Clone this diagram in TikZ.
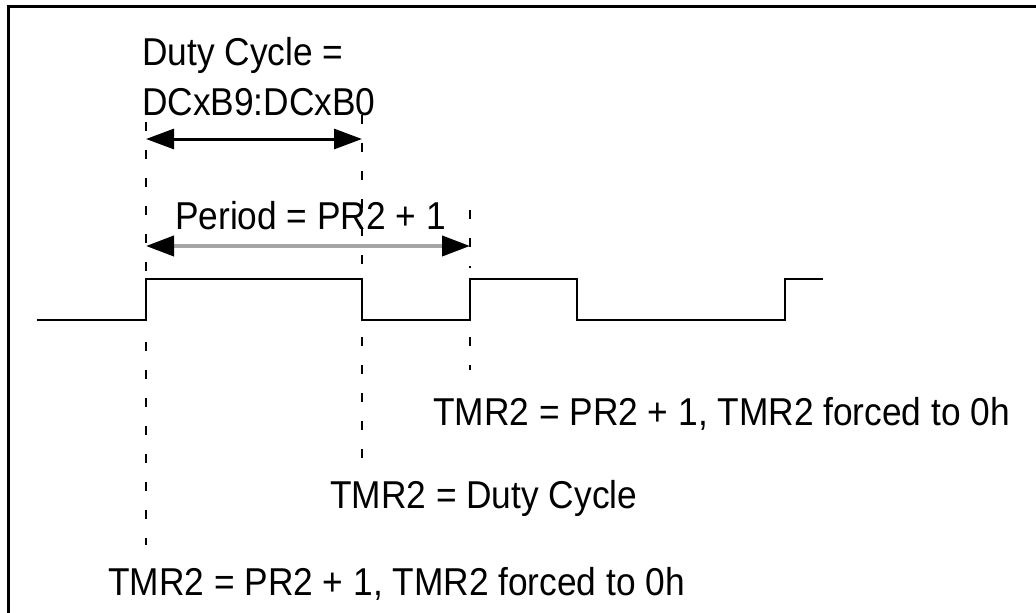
\documentclass[tikz,border=0pt]{standalone}
\usepackage{fontspec}
\usepackage{graphicx}
\setmainfont{Liberation Sans}
\usetikzlibrary{arrows.meta}
\newcommand{\tall}[1]{\scalebox{1}[1.1]{#1}}
\tikzset{
  lbl/.style={anchor=base west, inner sep=0pt, font=\fontsize{35.3}{42}\selectfont, text=black},
  sig/.style={line width=2.2pt, black},
  guide/.style={line width=1.8pt, black, dash pattern=on 9pt off 19pt},
  dutyarr/.style={line width=3pt, black, {Triangle[length=28pt,width=20pt]}-{Triangle[length=28pt,width=20pt]}},
  perarr/.style={line width=4pt, color={rgb,255:red,166;green,166;blue,166}, {Triangle[length=28pt,width=20pt,color=black]}-{Triangle[length=28pt,width=20pt,color=black]}},
  frame/.style={line width=3pt, black}
}
\begin{document}
\begin{tikzpicture}[x=1pt,y=-1pt]
\useasboundingbox (0,0) rectangle (1036,613);
\fill[white] (0,0) rectangle (1036,613);
% frame
\draw[frame] (8.5,620) -- (8.5,6.5) -- (1040,6.5);
% signal
\coordinate (s0) at (37,320);
\coordinate (s1) at (146,279);
\coordinate (s2) at (362,320);
\coordinate (s3) at (470,279);
\coordinate (s4) at (577,320);
\coordinate (s5) at (785,279);
\coordinate (s6) at (823,279);
\draw[sig] (s0) -| (s1) -| (s2) -| (s3) -| (s4) -| (s5) -- (s6);
% guide lines
\coordinate (a1) at (146,122); \coordinate (a2) at (146,272);
\coordinate (a3) at (146,342); \coordinate (a4) at (146,545);
\coordinate (b1) at (362,115); \coordinate (b2) at (362,279);
\coordinate (b3) at (362,337); \coordinate (b4) at (362,458);
\coordinate (c1) at (470,210); \coordinate (c2) at (470,268);
\coordinate (c3) at (470,337); \coordinate (c4) at (470,370);
\draw[guide] (a1) -- (a2);
\draw[guide] (a3) -- (a4);
\draw[guide] (b1) -- (b2);
\draw[guide] (b3) -- (b4);
\draw[guide] (c1) -- (c2);
\draw[guide] (c3) -- (c4);
% arrows
\coordinate (d1) at (146,139); \coordinate (d2) at (362,139);
\coordinate (p1) at (146,246); \coordinate (p2) at (470,246);
\draw[dutyarr] (d1) -- (d2);
\draw[perarr] (p1) -- (p2);
% labels
\node[lbl] (dc1) at (142,65) {\tall{Duty Cycle =}};
\node[lbl] (dc2) at (142,115) {\tall{DCxB9:DCxB0}};
\node[lbl] (per) at (175,229) {\tall{Period = PR2 + 1}};
\node[lbl] (t1) at (433,425) {\tall{TMR2 = PR2 + 1, TMR2 forced to 0h}};
\node[lbl] (t2) at (330,508) {\tall{TMR2 = Duty Cycle}};
\node[lbl] (t3) at (108,595) {\tall{TMR2 = PR2 + 1, TMR2 forced to 0h}};
\end{tikzpicture}
\end{document}
